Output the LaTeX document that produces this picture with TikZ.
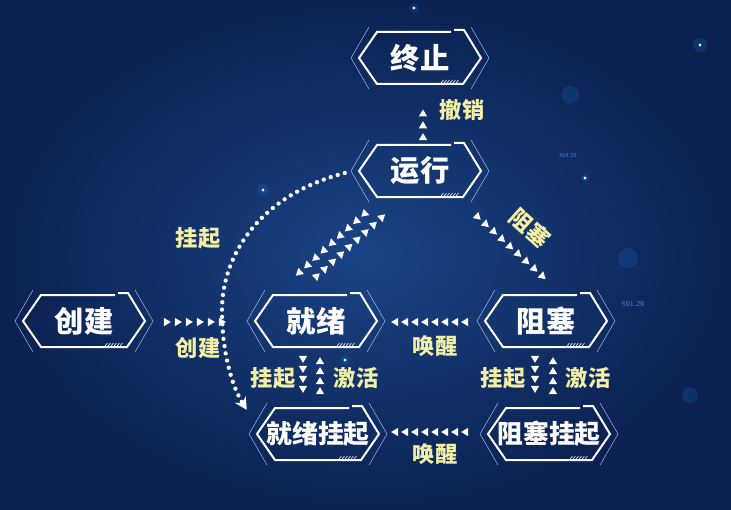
\documentclass[tikz,border=0pt]{standalone}
\usepackage{fontspec}
\newfontfamily\cjk{Noto Sans CJK SC}
\usetikzlibrary{calc,arrows.meta,decorations.markings}
\tikzset{>=latex}
\definecolor{bgdeep}{HTML}{0B2151}
\definecolor{bgmid}{HTML}{1A4486}
\definecolor{labelyellow}{HTML}{F3EFA4}
\definecolor{framelight}{HTML}{A8C3EE}
\definecolor{numblue}{HTML}{4580E2}

\begin{document}
\begin{tikzpicture}[x=0.03cm,y=-0.03cm]

        % Setup the styles for the states and arrows
        \tikzset{proc style/.style={minimum width=3.66cm,
                                    minimum height=1.56cm,
                                    inner sep=0pt,
                                    text=white,
                                    font=\cjk\bfseries\fontsize{25}{25}\selectfont},
                 long proc/.style={proc style,
                                   font=\cjk\bfseries\fontsize{22}{22}\selectfont},
                 edge label/.style={inner sep=0pt, text=labelyellow,
                                    font=\cjk\bfseries\fontsize{19}{19}\selectfont},
                 frame/.style={draw=white, line width=0.6mm},
                 outer frame/.style={draw=framelight, line width=0.4pt},
                 tri chain/.style={postaction={decorate},
                                   decoration={markings,
                                     mark=between positions 0 and 1 step #1 with
                                     {\fill[white] (1.1mm,0) -- (-1mm,1.25mm) -- (-1mm,-1.25mm) -- cycle;}}},
                 tri chain/.default=3.3mm,
                 dot line/.style={draw=white, line width=1.3mm, line cap=round,
                                  dash pattern=on 0pt off 2.2mm},
                 glow/.style={fill=cyan!40!blue, opacity=0.25}}

        % Background
        \shade[inner color=bgmid, outer color=bgdeep] (0,0) rectangle (731,510);
        \foreach \x/\y/\r in {263/190/6, 700/45/7, 414/8/5, 585/178/4, 570/95/9, 628/258/10, 345/360/5, 690/395/8}
            \fill[glow] (\x,\y) circle (\r);
        \foreach \x/\y in {263/190, 700/45, 414/8, 585/178, 345/360}
            \fill[white!85!cyan] (\x,\y) circle (1.6);
        \node[text=numblue, font=\sffamily\fontsize{5}{5}\selectfont] at (568,156) (numa) {504.25};
        \node[text=numblue, font=\sffamily\fontsize{6.5}{6.5}\selectfont] at (633,304) (numb) {501.29};

        % Draw the states
        \node[proc style] at (420, 58)     (zhongzhi)   {终止};
        \node[proc style] at (420, 171)    (yunxing)    {运行};
        \node[proc style] at (84, 321)     (chuangjian) {创建};
        \node[proc style] at (316, 321)    (jiuxu)      {就绪};
        \node[proc style] at (546, 321)    (zuse)       {阻塞};
        \node[long proc]  at (318, 434)    (jiuxugq)    {就绪挂起};
        \node[long proc]  at (549, 434)    (zusegq)     {阻塞挂起};

        % Frames round the states
        \foreach \n in {zhongzhi,yunxing,chuangjian,jiuxu,zuse,jiuxugq,zusegq}{
            \draw[frame] ($(\n)+(31,-26)$) -- ($(\n)+(-43,-26)$) -- ($(\n)+(-61,0)$)
                -- ($(\n)+(-43,26)$) -- ($(\n)+(43,26)$) -- ($(\n)+(61,0)$)
                -- ($(\n)+(44,-28)$) -- ($(\n)+(34,-28)$);
            \draw[outer frame] ($(\n)+(-51,-31)$) -- ($(\n)+(-69,0)$) -- ($(\n)+(-51,31)$);
            \draw[outer frame] ($(\n)+(51,-31)$) -- ($(\n)+(69,0)$) -- ($(\n)+(51,31)$);
            \foreach \k in {0,...,5}
                \draw[white, line width=0.5pt] ($(\n)+(21+3*\k,25)$) -- ($(\n)+(23.5+3*\k,22)$);
        }

        % Connect the states with chains of triangles
        \path[tri chain=3.55mm] ($(yunxing.north)+(3,-8)$) -- ($(zhongzhi.south)+(3,18)$);
        \path[tri chain] ($(chuangjian.east)+(22,1)$) -- ($(jiuxu.west)+(-32,1)$);
        \path[tri chain] ($(yunxing.south)+(-56,17)$) -- ($(jiuxu.north)+(-18,-21)$);
        \path[tri chain] ($(jiuxu.north)+(1,-19)$) -- ($(yunxing.south)+(-37,19)$);
        \path[tri chain] ($(yunxing.south)+(58,20)$) -- ($(zuse.north)+(-3,-18)$);
        \path[tri chain=3mm] ($(zuse.west)+(-20,1)$) -- ($(jiuxu.east)+(16,1)$);
        \path[tri chain=3mm] ($(zusegq.west)+(-23,-2)$) -- ($(jiuxugq.east)+(14,-2)$);
        \path[tri chain=3mm] ($(jiuxu.south)+(-13,12)$) -- ($(jiuxugq.north)+(-15,-17)$);
        \path[tri chain=3mm] ($(jiuxugq.north)+(2,-17)$) -- ($(jiuxu.south)+(4,12)$);
        \path[tri chain=3mm] ($(zuse.south)+(-11,12)$) -- ($(zusegq.north)+(-14,-17)$);
        \path[tri chain=3mm] ($(zusegq.north)+(4,-17)$) -- ($(zuse.south)+(7,12)$);

        % Dotted curve from running to ready-suspended
        \draw[dot line, -{Stealth[length=3.6mm, width=3.8mm]}]
            ($(yunxing.west)+(-14,2)$) .. controls (260,195) and (222,255) .. (222,310)
            .. controls (222,355) and (233,388) .. ($(jiuxugq.north west)+(-10,2)$);

        % Labels
        \node[edge label] at (462,110)  (lcx)   {撤销};
        \node[edge label] at (198,348)  (lcj)   {创建};
        \node[edge label] at (198,238)  (lgq)   {挂起};
        \node[edge label, rotate=-42] at (530,228) (lzs) {阻塞};
        \node[edge label] at (435,346)  (lhx)   {唤醒};
        \node[edge label] at (435,454)  (lhx2)  {唤醒};
        \node[edge label] at (273,378)  (lgq1)  {挂起};
        \node[edge label] at (356,378)  (ljh1)  {激活};
        \node[edge label] at (503,378)  (lgq2)  {挂起};
        \node[edge label] at (588,378)  (ljh2)  {激活};
\end{tikzpicture}
\end{document}
